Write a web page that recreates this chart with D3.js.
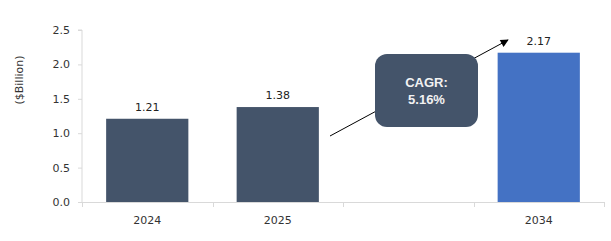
<!DOCTYPE html>
<html><head><meta charset="utf-8">
<script src="https://cdn.jsdelivr.net/npm/d3@7/dist/d3.min.js"></script>
<style>body{margin:0;background:#fff;}svg{display:block;}</style>
</head><body>
<svg id="c" width="611" height="241"></svg>
<script>
const categories = ["2024", "2025", "", "2034"];
const values = [1.21, 1.38, null, 2.17];
const yTicks = [0, 0.5, 1.0, 1.5, 2.0, 2.5];
const cagrLines = ["CAGR:", "5.16%"];
const yTitle = "($Billion)";

const svg = d3.select("#c");
const pLeft = 82, pRight = 604, pTop = 30, pBottom = 202;
const x = d3.scaleBand().domain(d3.range(categories.length)).range([pLeft, pRight]).paddingInner(0.37).paddingOuter(0.185);
const y = d3.scaleLinear().domain([0, 2.5]).range([pBottom, pTop]);
const step = (pRight - pLeft) / categories.length;

// y axis
const yAx = svg.append("g").attr("transform", `translate(${pLeft},0)`)
  .call(d3.axisLeft(y).tickValues(yTicks).tickFormat(d3.format(".1f")).tickSize(4).tickPadding(8));
yAx.select(".domain").attr("stroke", "#d9d9d9").attr("d", `M-4,${y(2.5)}H0V${pBottom}`);
yAx.selectAll(".tick line").attr("stroke", "#d9d9d9");
yAx.selectAll(".tick text").attr("font-family", "DejaVu Sans, Verdana, sans-serif").attr("font-size", 11).attr("fill", "#333");

// x axis
const xg = svg.append("g");
xg.append("line").attr("x1", pLeft).attr("x2", pRight).attr("y1", pBottom + 0.5).attr("y2", pBottom + 0.5).attr("stroke", "#d9d9d9");
d3.range(categories.length + 1).forEach(i => {
  const xx = Math.round(pLeft + i * step) + 0.5;
  xg.append("line").attr("x1", xx).attr("x2", xx).attr("y1", pBottom).attr("y2", pBottom + 5).attr("stroke", "#d9d9d9");
});
xg.selectAll("text.xl").data(categories).enter().append("text")
  .attr("x", (d, i) => x(i) + x.bandwidth() / 2).attr("y", 224)
  .attr("text-anchor", "middle").attr("font-family", "DejaVu Sans, Verdana, sans-serif").attr("font-size", 11).attr("fill", "#333")
  .text(d => d);

// bars
const data = values.map((v, i) => ({v, i})).filter(d => d.v !== null);
svg.selectAll("rect.bar").data(data).enter().append("rect")
  .attr("x", d => x(d.i)).attr("width", x.bandwidth())
  .attr("y", d => y(d.v)).attr("height", d => pBottom - y(d.v))
  .attr("fill", d => d.i === 3 ? "#4472C4" : "#44546A");
svg.selectAll("text.val").data(data).enter().append("text")
  .attr("x", d => x(d.i) + x.bandwidth() / 2).attr("y", d => y(d.v) - 8)
  .attr("text-anchor", "middle").attr("font-family", "DejaVu Sans, Verdana, sans-serif").attr("font-size", 11).attr("fill", "#222")
  .text(d => d.v.toFixed(2));

// y title
svg.append("text").attr("transform", "translate(23,80) rotate(-90)").attr("text-anchor", "middle")
  .attr("font-family", "DejaVu Sans, Verdana, sans-serif").attr("font-size", 11).attr("fill", "#333").text(yTitle);

// arrow
const defs = svg.append("defs");
defs.append("marker").attr("id", "ah").attr("viewBox", "0 0 10 10").attr("refX", 9).attr("refY", 5)
  .attr("markerWidth", 10).attr("markerHeight", 8).attr("markerUnits", "userSpaceOnUse").attr("orient", "auto")
  .append("path").attr("d", "M0,0L10,5L0,10Z").attr("fill", "#000");
svg.append("line").attr("x1", 330).attr("y1", 136).attr("x2", 508).attr("y2", 40)
  .attr("stroke", "#000").attr("stroke-width", 1).attr("marker-end", "url(#ah)");

// CAGR box
svg.append("rect").attr("x", 375).attr("y", 54).attr("width", 103).attr("height", 73).attr("rx", 12)
  .attr("fill", "#44546A");
svg.selectAll("text.cagr").data(cagrLines).enter().append("text")
  .attr("x", 426.5).attr("y", (d, i) => 87 + i * 17).attr("text-anchor", "middle")
  .attr("font-family", "Liberation Sans, Arial, sans-serif").attr("font-weight", "bold").attr("font-size", 13).attr("fill", "#f2f2f2")
  .text(d => d);
</script>
</body></html>
